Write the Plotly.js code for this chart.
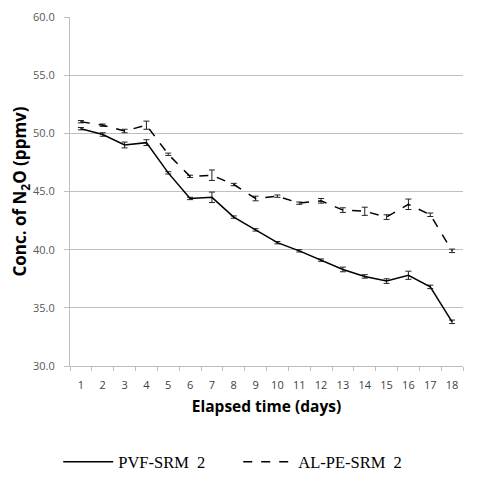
<!DOCTYPE html>
<html>
<head>
<meta charset="utf-8">
<script src="https://cdn.plot.ly/plotly-3.0.1.min.js"></script>
<style>html,body{margin:0;padding:0;background:#fff;}#chart{width:477px;height:478px;}</style>
</head>
<body>
<div id="chart"></div>
<script>
const days = ['1','2','3','4','5','6','7','8','9','10','11','12','13','14','15','16','17','18'];
const pvfName = 'PVF-SRM  2';
const alName = 'AL-PE-SRM  2';
const pvfValues = [50.4,49.9,49.0,49.2,46.6,44.4,44.5,42.8,41.7,40.6,39.9,39.1,38.3,37.7,37.3,37.8,36.8,33.8];
const pvfErr    = [0.1,0.15,0.25,0.25,0.1,0.1,0.45,0.1,0.1,0.1,0.1,0.1,0.2,0.15,0.2,0.35,0.15,0.15];
const alValues  = [51.0,50.7,50.2,50.7,48.2,46.3,46.4,45.6,44.4,44.6,44.0,44.2,43.4,43.3,42.8,43.9,43.0,39.9];
const alErr     = [0.1,0.1,0.15,0.35,0.1,0.1,0.45,0.1,0.2,0.1,0.1,0.2,0.2,0.35,0.2,0.45,0.15,0.15];
const yTicks = [30,35,40,45,50,55,60];

const traces = [
  {x: days, y: pvfValues, name: pvfName, type:'scatter', mode:'lines',
   line:{color:'#000', width:1.5, dash:'solid'},
   error_y:{type:'data', array:pvfErr, visible:true, color:'#222', thickness:1, width:3}},
  {x: days, y: alValues, name: alName, type:'scatter', mode:'lines',
   line:{color:'#000', width:1.5, dash:'dash'},
   error_y:{type:'data', array:alErr, visible:true, color:'#222', thickness:1, width:3}}
];

const layout = {
  width:477, height:478,
  margin:{l:70, r:14, t:17, b:112, autoexpand:false},
  paper_bgcolor:'#fff', plot_bgcolor:'#fff',
  showlegend:true,
  legend:{orientation:'h', xref:'paper', x:-0.03, xanchor:'left', yref:'paper', y:-0.275, yanchor:'middle',
    font:{family:'Liberation Serif, serif', size:16.5, color:'#000'}, itemwidth:50, entrywidth:115, entrywidthmode:'pixels'},
  xaxis:{type:'category', range:[-0.5,17.5], autorange:false, tickson:'boundaries', ticks:'outside', ticklen:4, tickcolor:'#bfbfbf', tickangle:0,
    ticklabelstandoff:9,
    showline:true, linecolor:'#bfbfbf', linewidth:1, showgrid:false, zeroline:false,
    tickfont:{family:'Open Sans, sans-serif', size:11, color:'#404040'},
    title:{text:'<b>Elapsed time (days)</b>', font:{family:'Open Sans, sans-serif', size:15.5, color:'#000'}, standoff:9}},
  yaxis:{range:[30,60], autorange:false, tickvals:yTicks, ticktext:yTicks.map(v=>v.toFixed(1)),
    ticks:'outside', ticklen:5, tickcolor:'#bfbfbf', ticklabelstandoff:7,
    showline:true, linecolor:'#bfbfbf', linewidth:1, showgrid:true, gridcolor:'#bfbfbf', gridwidth:1, zeroline:false,
    tickfont:{family:'Open Sans, sans-serif', size:11, color:'#595959'},
    title:{text:'<b>Conc. of N<sub>2</sub>O (ppmv)</b>', font:{family:'Open Sans, sans-serif', size:17, color:'#000'}, standoff:1}}
};

Plotly.newPlot('chart', traces, layout, {displayModeBar:false, staticPlot:true});
</script>
</body>
</html>
